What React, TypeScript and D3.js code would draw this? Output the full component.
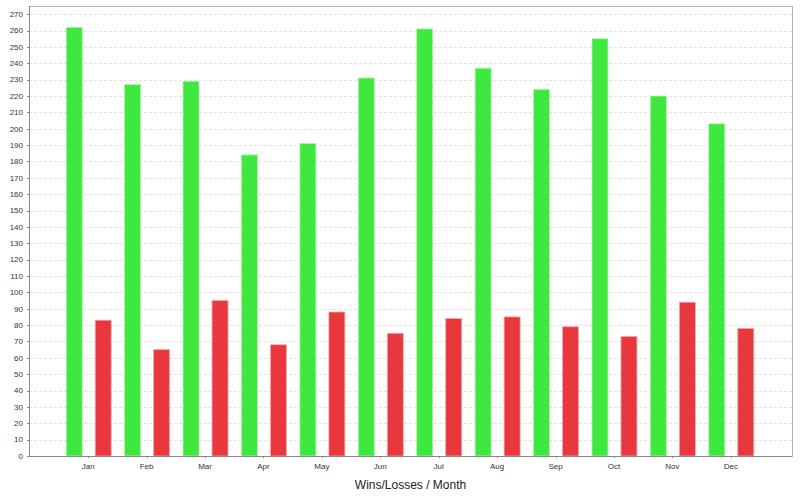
import React from "react";
import * as d3 from "d3";

const months = ["Jan", "Feb", "Mar", "Apr", "May", "Jun", "Jul", "Aug", "Sep", "Oct", "Nov", "Dec"];
const wins = [262, 227, 229, 184, 191, 231, 261, 237, 224, 255, 220, 203];
const losses = [83, 65, 95, 68, 88, 75, 84, 85, 79, 73, 94, 78];
const yTicks = d3.range(0, 271, 10);
const xTitle = "Wins/Losses / Month";

const W = 800, H = 500;
const left = 29, right = 792, top = 6, bottom = 456;

export default function App() {
  const y = d3.scaleLinear().domain([0, 275]).range([bottom, top]);
  const x = d3.scaleBand<string>().domain(months).range([59, 760]).paddingInner(0).paddingOuter(0);
  const bw = x.bandwidth();
  const center = (m: string) => (x(m) as number) + bw / 2;
  const barW = 16;
  const font = "'Liberation Sans', Arial, sans-serif";
  return (
    <svg width={W} height={H} style={{ position: "absolute", left: 0, top: 0 }}>
      <rect x={0} y={0} width={W} height={H} fill="#fff" />
      <rect x={left + 0.5} y={top + 0.5} width={right - left} height={bottom - top} fill="#fff" stroke="#b4b4b4" strokeWidth={1} />
      {yTicks.map((t) => (
        <g key={t}>
          {t > 0 && (
            <line x1={left} x2={right} y1={Math.round(y(t)) + 0.5} y2={Math.round(y(t)) + 0.5} stroke="#e2e2e2" strokeDasharray="3,2" strokeWidth={1} />
          )}
          <line x1={left - 2} x2={left} y1={Math.round(y(t)) + 0.5} y2={Math.round(y(t)) + 0.5} stroke="#888" />
          <text x={23} y={y(t)} dy="0.35em" textAnchor="end" fontSize={8} fontFamily={font} fill="#333">{t}</text>
        </g>
      ))}
      {months.map((m, i) => {
        const c = center(m);
        const gx = c - 22;
        const rx = c + 7;
        return (
          <g key={m}>
            <rect x={gx} y={y(wins[i])} width={barW} height={y(0) - y(wins[i])} fill="#3ee83e" stroke="#b0f4b0" strokeWidth={0.8} />
            <rect x={rx} y={y(losses[i])} width={barW} height={y(0) - y(losses[i])} fill="#e8383d" stroke="#f2aaac" strokeWidth={0.8} />
            <line x1={Math.round(c) + 0.5} x2={Math.round(c) + 0.5} y1={bottom} y2={bottom + 2} stroke="#888" />
            <text x={c} y={bottom + 10} dy="0.35em" textAnchor="middle" fontSize={8} fontFamily={font} fill="#333">{m}</text>
          </g>
        );
      })}
      <line x1={left + 0.5} x2={left + 0.5} y1={top} y2={bottom} stroke="#888" shapeRendering="crispEdges" />
      <line x1={left} x2={right} y1={bottom + 0.5} y2={bottom + 0.5} stroke="#888" shapeRendering="crispEdges" />
      <text x={(left + right) / 2} y={489} textAnchor="middle" fontSize={12} fontFamily={font} fill="#222">{xTitle}</text>
    </svg>
  );
}
